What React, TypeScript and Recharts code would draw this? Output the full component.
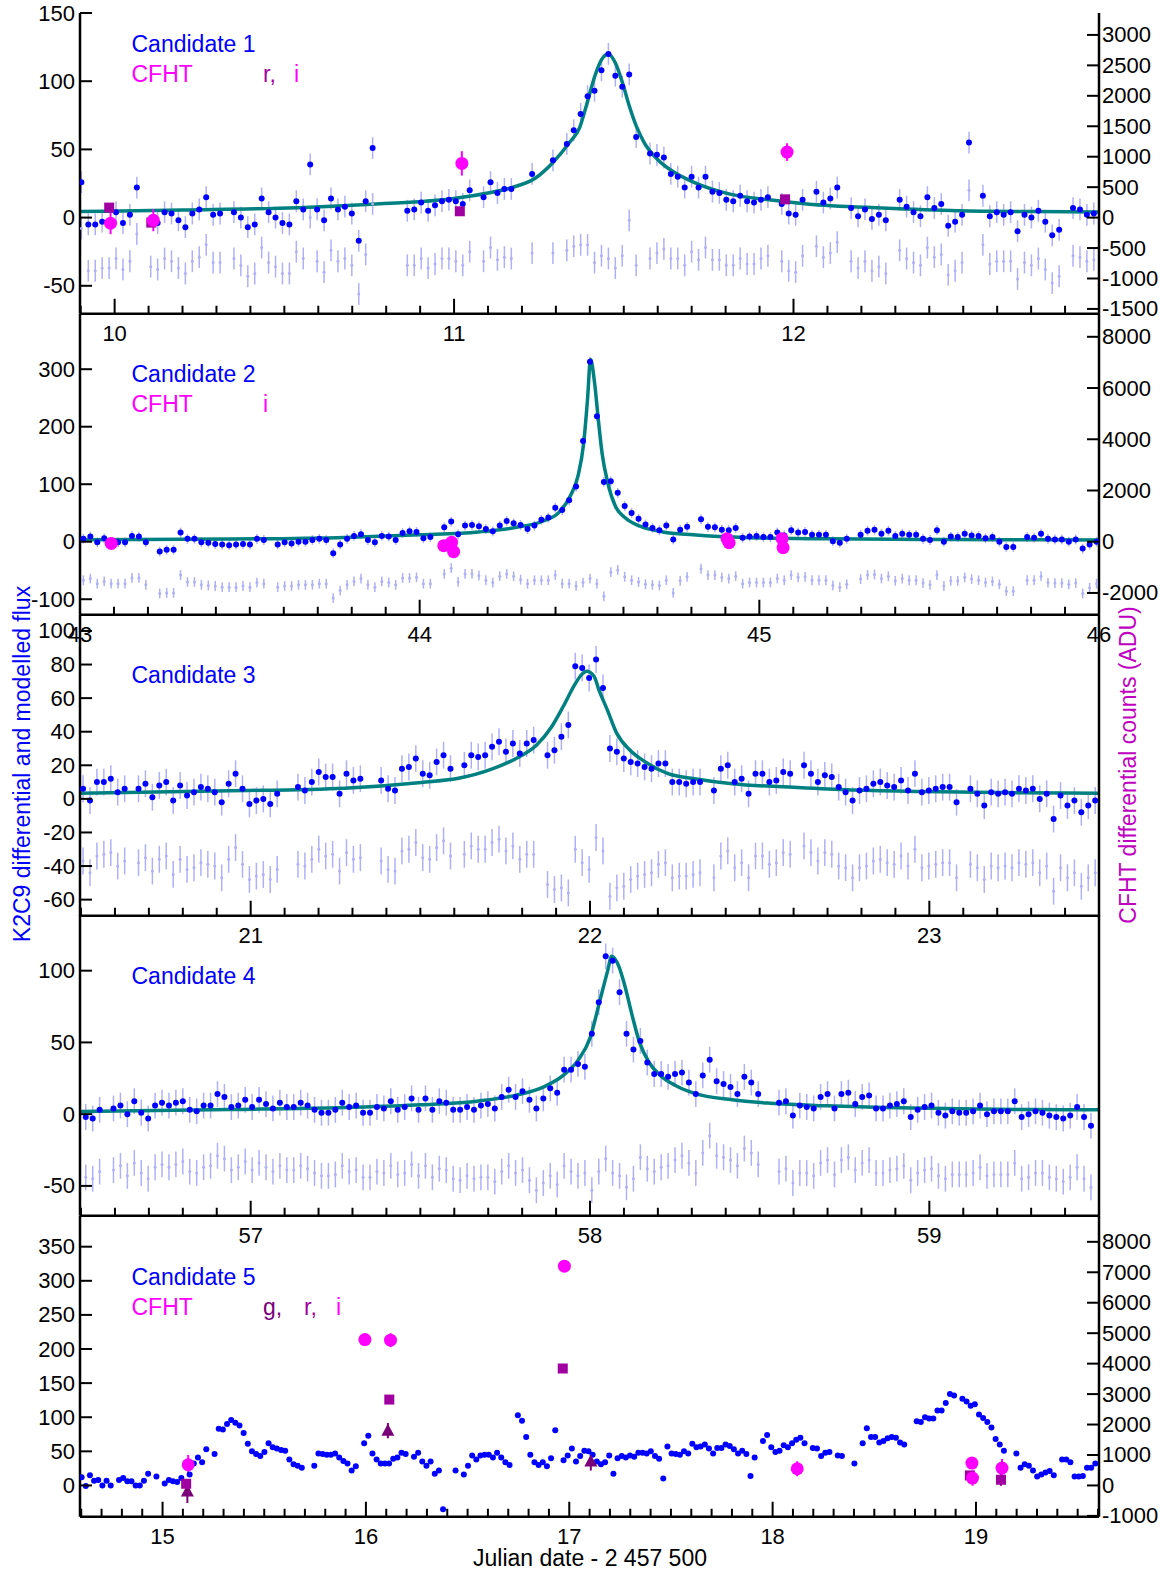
import React from 'react';
import { ComposedChart, Scatter, Line, XAxis, YAxis, ErrorBar } from 'recharts';

const FONT = "'Liberation Sans', Arial, Helvetica, sans-serif";
const BLUE = '#0000ff';
const LAV = '#b0b0f6';
const TEAL = '#008080';
const MAG = '#ff00ff';
const RPUR = '#a000a0';
const GPUR = '#7a007a';
const CADENCE = 0.02043;

// ---------------- Candidate 1 ----------------
const p1Start = 9.902;
const p1Flux = [26,-5,-5,-3,null,4,-4,2,22,null,
 null,-4,4,3,-2,-7,3,6,15,2,
 3,null,4,0,-7,-5,14,4,0,-4,
 -5,12,6,39,6,-2,14,6,8,3,
 -17,12,51,null,null,null,null,5,6,11,
 5,9,12,13,12,10,20,null,15,26,
 18,21,21,null,null,32,null,null,42,null,
 54,64,76,89,93,108,120,104,96,105,
 59,null,47,46,44,32,30,22,30,22,
 30,19,18,13,12,16,12,11,13,15,
 null,10,3,2,13,null,19,11,14,22,
 null,7,1,6,-1,2,-2,null,13,8,
 4,1,15,7,10,-6,-3,2,55,null,
 16,1,4,2,4,-10,2,0,5,-3,
 -13,-9,null,7,6,2,3];
const p1Resid = [-8,-39,-39,-37,-37,-30,-38,-32,-12,null,
 -36,-38,-30,-32,-37,-41,-32,-29,-20,-33,
 -33,null,-30,-35,-43,-41,-22,-33,-36,-41,
 -41,-25,-30,0,-32,-40,-24,-32,-30,-35,
 -56,-27,10,null,null,null,null,-35,-35,-30,
 -37,-34,-30,-30,-32,-35,-25,null,-32,-22,
 -31,-29,-30,null,null,-26,null,null,-26,null,
 -24,-21,-20,-20,-33,-28,-30,-37,-28,-2,
 -35,null,-30,-26,-23,-30,-30,-35,-25,-31,
 -22,-31,-31,-35,-35,-30,-34,-34,-30,-28,
 null,-32,-39,-40,-28,null,-21,-29,-26,-18,
 null,-32,-37,-32,-39,-36,-41,null,-24,-30,
 -33,-35,-22,-29,-27,-42,-39,-33,20,null,
 -20,-34,-32,-32,-32,-45,-33,-35,-30,-38,
 -48,-43,null,-28,-29,-32,-31];
const p1Err = 8;
const p1ModelT = [9.89,10.2,10.54,10.77,11.0,11.1,11.17,11.24,11.29,11.34,11.37,11.392,11.415,11.435,11.455,11.476,11.496,11.516,11.537,11.56,11.598,11.65,11.705,11.816,11.928,12.04,12.262,12.485,12.708,12.9];
const p1ModelF = [4.4,5.6,7.3,10,14,18,22,29,40,55,66,84,104,116,120,113,99,82,67,55,43,33,26,17,13,10,7,5,4.4,4.1];
const p1IT = [9.988,10.114,11.023,11.981];
const p1IC = [-93,-44,890,1076];
const p1IE = [180,180,200,145];
const p1RT = [9.984,10.108,11.017,11.975];
const p1RC = [164,-82,104,300];
const p1RE = [70,70,60,60];
const p1XMajor = [10,11,12];
const p1YTicks = [150,100,50,0,-50];
const p1RTicks = [3000,2500,2000,1500,1000,500,0,-500,-1000,-1500];

// ---------------- Candidate 2 ----------------
const p2Start = 43.01;
const p2Flux = [5,9,-1,6,-1,-1,-1,10,9,-1,
 null,-17,-14,-14,16,5,5,-1,-2,-4,
 -5,-6,-5,-4,-5,5,3,null,-5,-1,
 -3,0,0,3,5,3,-20,-5,5,10,
 13,3,-1,10,9,3,15,18,17,6,
 8,null,25,35,13,28,29,27,22,18,
 28,36,32,29,22,28,38,42,59,55,
 72,96,175,313,218,104,105,85,62,50,
 40,30,24,20,28,4,21,26,null,39,
 26,25,21,20,24,7,9,10,8,8,
 16,11,20,16,17,12,12,12,1,-2,
 5,null,12,19,21,14,19,10,14,12,
 12,5,3,20,0,9,8,14,11,10,
 6,8,0,-9,-9,null,8,7,14,5,
 4,4,0,4,-12,-5,0];
const p2Resid = [-67,-64,-73,-69,-73,-73,-73,-63,-63,-75,
 null,-90,-89,-89,-58,-70,-70,-75,-76,-77,
 -79,-79,-79,-77,-79,-71,-73,null,-79,-77,
 -77,-75,-75,-75,-73,-73,-98,-85,-75,-69,
 -64,-75,-79,-69,-71,-75,-63,-63,-62,-73,
 -73,null,-56,-46,-70,-56,-56,-59,-67,-71,
 -60,-56,-60,-66,-73,-67,-67,-67,-58,-73,
 -73,-77,-71,-64,-73,-95,-53,-49,-61,-67,
 -70,-74,-75,-76,-67,-89,-68,-61,null,-47,
 -58,-58,-62,-64,-60,-73,-71,-71,-71,-71,
 -64,-67,-58,-62,-61,-67,-67,-67,-76,-79,
 -74,null,-65,-58,-57,-64,-60,-68,-64,-67,
 -67,-72,-75,-58,-77,-68,-68,-62,-65,-67,
 -71,-69,-74,-86,-86,null,-67,-67,-60,-71,
 -72,-72,-74,-72,-90,-80,-73];
const p2Err = 8.5;
const p2ModelT = [43.0,43.44,43.78,44.0,44.173,44.285,44.364,44.41,44.443,44.466,44.483,44.494,44.503,44.515,44.526,44.537,44.554,44.576,44.604,44.649,44.716,44.805,44.972,45.195,45.474,45.697,46.0];
const p2ModelF = [3.5,4.6,7.5,12,17,25,36,51,79,114,172,246,317,276,212,154,102,62,42,27,17,12,7,5,4,3.5,3];
const p2IT = [43.092,44.071,44.094,44.1,44.905,44.911,45.067,45.07];
const p2IC = [-65,-155,-22,-390,117,-39,117,-234];
const p2IE = [150,150,150,150,150,150,150,150];
const p2XMajor = [43,44,45,46];
const p2YTicks = [300,200,100,0,-100];
const p2RTicks = [8000,6000,4000,2000,0,-2000];

// ---------------- Candidate 3 ----------------
const p3Start = 20.506;
const p3Flux = [6,-1,10,10,12,4,6,null,6,9,
 1,8,10,-1,8,2,4,7,6,4,
 -2,9,15,6,-3,-1,0,-3,3,null,
 null,7,5,10,16,13,13,3,15,11,
 12,null,null,11,6,5,18,19,24,15,
 14,22,26,18,null,20,26,25,26,31,
 34,28,33,27,33,35,null,26,29,37,
 44,79,78,72,83,66,30,28,24,22,
 21,19,18,21,21,10,10,9,10,10,
 null,5,18,20,10,12,3,15,15,10,
 11,16,15,null,20,15,10,14,13,7,
 4,-1,5,6,9,10,8,7,11,5,
 15,4,5,6,7,7,-2,null,6,3,
 -4,4,3,4,3,6,5,6,0,3,
 -12,2,-4,-1,-8,-4,-1];
const p3Resid = [-37,-44,-34,-33,-32,-40,-37,null,-38,-35,
 -43,-36,-34,-45,-36,-42,-41,-38,-39,-40,
 -47,-36,-29,-39,-48,-46,-45,-48,-42,null,
 null,-39,-40,-36,-30,-34,-33,-43,-32,-36,
 -35,null,null,-37,-42,-43,-31,-30,-26,-35,
 -36,-29,-25,-34,null,-33,-28,-30,-30,-26,
 -24,-31,-28,-36,-33,-33,null,-51,-54,-53,
 -56,-30,-38,-42,-23,-31,-58,-53,-52,-48,
 -46,-45,-44,-39,-38,-47,-46,-46,-45,-44,
 null,-47,-34,-31,-41,-38,-47,-34,-34,-39,
 -38,-32,-33,null,-28,-32,-37,-32,-33,-40,
 -41,-47,-41,-40,-37,-36,-38,-39,-34,-40,
 -30,-41,-40,-39,-38,-38,-47,null,-39,-41,
 -48,-40,-41,-40,-41,-38,-39,-38,-44,-40,
 -55,-41,-47,-44,-52,-47,-44];
const p3Err = 8;
const p3ModelT = [20.497,20.938,21.277,21.503,21.616,21.706,21.785,21.842,21.887,21.921,21.955,21.975,21.99,22.012,22.026,22.051,22.079,22.118,22.163,22.23,22.308,22.419,22.586,22.754,22.977,23.2,23.5];
const p3ModelF = [3.4,4.8,6.4,9.8,12.4,17.4,24.4,32,43,55,68,74,76,73,65,53,39,29,22,15,12,9,7,5.4,4.4,3.8,3.4];
const p3XMajor = [21,22,23];
const p3YTicks = [100,80,60,40,20,0,-20,-40,-60];

// ---------------- Candidate 4 ----------------
const p4Start = 56.514;
const p4Flux = [-2,-3,3,null,4,6,0,9,1,-3,
 6,8,6,8,9,3,2,6,6,14,
 12,5,6,10,5,10,7,4,8,5,
 5,8,6,3,1,1,3,8,5,6,
 1,1,5,4,9,3,5,11,3,11,
 3,9,8,3,3,5,3,6,7,4,
 12,17,12,16,10,4,11,18,15,31,
 31,35,33,56,78,110,107,85,56,45,
 51,36,28,28,26,28,29,22,14,27,
 38,23,21,19,14,26,22,14,null,null,
 8,9,-1,6,5,4,12,14,4,14,
 15,7,12,13,4,4,6,7,9,-2,
 3,5,6,1,-1,2,1,1,2,6,
 0,2,2,2,9,-2,0,2,1,-1,
 -2,-3,-1,5,-2,-8];
const p4Resid = [-44,-45,-40,null,-39,-36,-43,-34,-41,-45,
 -37,-35,-37,-35,-33,-40,-41,-37,-36,-29,
 -31,-39,-37,-33,-39,-34,-37,-40,-36,-39,
 -39,-36,-38,-41,-43,-43,-42,-36,-40,-39,
 -44,-44,-40,-41,-36,-42,-41,-35,-43,-36,
 -44,-38,-39,-45,-46,-43,-45,-44,-44,-47,
 -40,-36,-41,-39,-46,-53,-48,-43,-49,-36,
 -40,-43,-41,-53,-40,-31,-41,-43,-51,-45,
 -30,-38,-40,-37,-36,-32,-29,-34,-41,-27,
 -15,-29,-30,-32,-36,-24,-27,-35,null,null,
 -40,-38,-48,-41,-41,-43,-34,-32,-42,-32,
 -30,-39,-34,-32,-41,-41,-39,-38,-36,-46,
 -41,-39,-38,-43,-45,-42,-42,-42,-41,-37,
 -43,-42,-42,-42,-34,-45,-44,-41,-41,-44,
 -45,-47,-44,-37,-45,-51];
const p4Err = 9;
const p4ModelT = [56.497,56.938,57.277,57.503,57.672,57.785,57.864,57.921,57.966,58.0,58.03,58.051,58.064,58.085,58.102,58.124,58.146,58.174,58.207,58.252,58.308,58.419,58.531,58.698,58.865,59.088,59.311,59.5];
const p4ModelF = [1.8,3.2,4.6,6.5,9.2,13.4,19,27,38,53,80,99,110,103,90,69,50,36,27,20,14.5,10,7.6,5.8,4.6,3.7,3.2,3];
const p4XMajor = [57,58,59];
const p4YTicks = [100,50,0,-50];

// ---------------- Candidate 5 ----------------
const p5Start = 14.602;
const p5Flux = [12,-1,15,7,8,0,7,0,null,8,
 11,6,6,0,0,7,17,null,13,null,
 3,8,6,5,11,null,16,32,41,34,
 53,null,46,83,82,90,96,92,88,77,
 61,50,46,43,49,62,56,54,52,51,
 38,31,29,26,null,null,29,47,46,45,
 45,47,41,36,32,22,28,null,62,73,
 47,38,32,32,32,39,41,48,46,null,
 42,48,35,29,35,17,22,-35,null,null,
 22,null,16,29,44,38,44,45,45,41,
 48,41,34,30,null,103,95,71,45,34,
 30,34,28,40,81,null,37,44,54,35,
 43,51,50,45,35,31,34,44,17,40,
 43,41,44,42,48,48,47,50,43,39,
 10,57,47,46,45,50,47,61,56,57,
 60,54,47,55,55,60,58,53,47,51,
 46,14,41,null,65,74,56,49,51,59,
 56,62,67,70,62,null,55,54,43,48,
 49,null,44,43,null,null,32,null,62,84,
 71,71,63,65,69,71,70,63,60,null,
 null,94,93,100,98,98,110,110,121,134,
 132,null,127,123,117,119,104,99,93,85,
 68,60,51,null,null,47,26,31,29,22,
 13,16,19,21,15,null,38,38,34,13,
 13,14,26,26,32];
const p5IT = [15.126,15.995,16.121,16.976,18.121,18.98,18.983,19.128];
const p5IC = [680,4790,4770,7200,548,735,241,570];
const p5IE = [320,190,230,190,250,150,250,300];
const p5RT = [15.116,16.115,16.968,18.97,19.123];
const p5RC = [55,2820,3840,329,186];
const p5RE = [100,60,60,60,200];
const p5GT = [15.122,16.108,17.106];
const p5GC = [-197,1800,790];
const p5GE = [380,250,300];
const p5XMajor = [15,16,17,18,19];
const p5YTicks = [350,300,250,200,150,100,50,0];
const p5RTicks = [8000,7000,6000,5000,4000,3000,2000,1000,0,-1000];

// ---------------- helpers ----------------
type Pt = { x: number; y: number; e: number };

function cadenceSeries(start: number, vals: (number | null)[], err: number): Pt[] {
  const out: Pt[] = [];
  vals.forEach((v, i) => {
    if (v !== null) out.push({ x: start + i * CADENCE, y: v, e: err });
  });
  return out;
}
function zipSeries(xs: number[], ys: number[], es?: number[]): Pt[] {
  return xs.map((x, i) => ({ x, y: ys[i], e: es ? es[i] : 0 }));
}
function axisTicks(d: [number, number]): number[] {
  const out: number[] = [];
  for (let k = Math.ceil(d[0] * 10 - 1e-6); k <= Math.floor(d[1] * 10 + 1e-6); k++) out.push(k / 10);
  return out;
}

const AX = { stroke: '#000', strokeWidth: 2.5 };
const PH = 300.75;

function LeftTick(props: any) {
  const { x, y, payload } = props;
  return (
    <g>
      <line x1={x} x2={x + 12} y1={y} y2={y} stroke="#000" strokeWidth={2} />
      <text x={x - 5} y={y} textAnchor="end" dominantBaseline="central" fontSize={22} fontFamily={FONT} fill="#000">
        {payload.value}
      </text>
    </g>
  );
}
function RightTick(props: any) {
  const { x, y, payload } = props;
  return (
    <g>
      <line x1={x - 12} x2={x} y1={y} y2={y} stroke="#000" strokeWidth={2} />
      <text x={x + 3} y={y} textAnchor="start" dominantBaseline="central" fontSize={22} fontFamily={FONT} fill="#000">
        {payload.value}
      </text>
    </g>
  );
}
function BottomTick(props: any) {
  const { x, y, payload } = props;
  const v = payload.value as number;
  const major = Math.abs(v - Math.round(v)) < 1e-6;
  return (
    <g>
      <line x1={x} x2={x} y1={y} y2={y - (major ? 15 : 8)} stroke="#000" strokeWidth={2} />
      {major && (
        <text x={x} y={y + 20} textAnchor="middle" dominantBaseline="central" fontSize={22} fontFamily={FONT} fill="#000">
          {Math.round(v)}
        </text>
      )}
    </g>
  );
}

const dotBlue = (p: any) => <circle cx={p.cx} cy={p.cy} r={3} fill={BLUE} />;
const dotLav = (p: any) => <circle cx={p.cx} cy={p.cy} r={1.5} fill={LAV} />;
const noDot = () => <g />;
const dotI = (p: any) => <circle cx={p.cx} cy={p.cy} r={6.5} fill={MAG} />;
const dotR = (p: any) => <rect x={p.cx - 5} y={p.cy - 5} width={10} height={10} fill={RPUR} />;
const dotG = (p: any) => (
  <polygon points={`${p.cx},${p.cy - 7} ${p.cx - 6.5},${p.cy + 5} ${p.cx + 6.5},${p.cy + 5}`} fill={GPUR} />
);

type PanelProps = {
  top: number;
  xDomain: [number, number];
  yDomain: [number, number];
  yTicks: number[];
  rDomain?: [number, number];
  rTicks?: number[];
  flux: Pt[];
  resid?: Pt[];
  showErr: boolean;
  model?: Pt[];
  iPts?: Pt[];
  rPts?: Pt[];
  gPts?: Pt[];
};

function Panel(p: PanelProps) {
  const H = PH + 50;
  return (
    <div style={{ position: 'absolute', left: 0, top: p.top - 10, width: 1174, height: H }}>
      <ComposedChart width={1174} height={H} margin={{ top: 10, right: 15, bottom: 10, left: 20 }}>
        <XAxis
          xAxisId="b"
          dataKey="x"
          type="number"
          domain={p.xDomain}
          allowDataOverflow
          ticks={axisTicks(p.xDomain)}
          interval={0}
          tickSize={0}
          tickMargin={0}
          tickLine={false}
          axisLine={AX}
          tick={(t: any) => <BottomTick {...t} />}
          height={30}
        />
        <XAxis
          xAxisId="t"
          orientation="top"
          dataKey="x"
          type="number"
          domain={p.xDomain}
          allowDataOverflow
          height={0}
          tick={false}
          tickLine={false}
          axisLine={AX}
        />
        <YAxis
          yAxisId="l"
          dataKey="y"
          type="number"
          domain={p.yDomain}
          allowDataOverflow
          ticks={p.yTicks}
          interval={0}
          tickSize={0}
          tickMargin={0}
          tickLine={false}
          axisLine={AX}
          tick={(t: any) => <LeftTick {...t} />}
          width={60}
        />
        <YAxis
          yAxisId="r"
          orientation="right"
          dataKey="y"
          type="number"
          domain={p.rDomain ?? [0, 1]}
          allowDataOverflow
          ticks={p.rTicks ?? []}
          interval={0}
          tickSize={0}
          tickMargin={0}
          tickLine={false}
          axisLine={AX}
          tick={p.rTicks ? (t: any) => <RightTick {...t} /> : false}
          width={60}
        />
        {p.resid && (
          <Scatter xAxisId="b" yAxisId="l" data={p.resid} dataKey="y" shape={dotLav} isAnimationActive={false}>
            <ErrorBar dataKey="e" direction="y" width={0} stroke={LAV} strokeWidth={1.5} />
          </Scatter>
        )}
        {p.showErr && (
          <Scatter xAxisId="b" yAxisId="l" data={p.flux} dataKey="y" shape={noDot} isAnimationActive={false}>
            <ErrorBar dataKey="e" direction="y" width={0} stroke={LAV} strokeWidth={1.5} />
          </Scatter>
        )}
        <Scatter xAxisId="b" yAxisId="l" data={p.flux} dataKey="y" shape={dotBlue} isAnimationActive={false} />
        {p.model && (
          <Line
            xAxisId="b"
            yAxisId="l"
            data={p.model}
            dataKey="y"
            type="monotone"
            dot={false}
            activeDot={false}
            stroke={TEAL}
            strokeWidth={3.5}
            isAnimationActive={false}
          />
        )}
        {p.gPts && (
          <Scatter xAxisId="b" yAxisId="r" data={p.gPts} dataKey="y" shape={dotG} isAnimationActive={false}>
            <ErrorBar dataKey="e" direction="y" width={0} stroke={GPUR} strokeWidth={2} />
          </Scatter>
        )}
        {p.rPts && (
          <Scatter xAxisId="b" yAxisId="r" data={p.rPts} dataKey="y" shape={dotR} isAnimationActive={false}>
            <ErrorBar dataKey="e" direction="y" width={0} stroke={RPUR} strokeWidth={2} />
          </Scatter>
        )}
        {p.iPts && (
          <Scatter xAxisId="b" yAxisId="r" data={p.iPts} dataKey="y" shape={dotI} isAnimationActive={false}>
            <ErrorBar dataKey="e" direction="y" width={0} stroke={MAG} strokeWidth={2} />
          </Scatter>
        )}
      </ComposedChart>
    </div>
  );
}

const TOPS = [13, 13 + PH, 13 + 2 * PH, 13 + 3 * PH, 13 + 4 * PH];

function Txt(props: { x: number; y: number; c: string; s?: string; children: React.ReactNode }) {
  return (
    <text x={props.x} y={props.y} fill={props.c} fontSize={23} fontFamily={FONT} dominantBaseline="central" textAnchor={props.s ?? 'start'}>
      {props.children}
    </text>
  );
}

export default function App() {
  return (
    <div style={{ position: 'absolute', left: 0, top: 0, width: 1174, height: 1574, background: '#fff' }}>
      <Panel
        top={TOPS[0]}
        xDomain={[9.898, 12.9]}
        yDomain={[-70.5, 150]}
        yTicks={p1YTicks}
        rDomain={[-1579, 3360]}
        rTicks={p1RTicks}
        flux={cadenceSeries(p1Start, p1Flux, p1Err)}
        resid={cadenceSeries(p1Start, p1Resid, p1Err)}
        showErr
        model={zipSeries(p1ModelT, p1ModelF)}
        iPts={zipSeries(p1IT, p1IC, p1IE)}
        rPts={zipSeries(p1RT, p1RC, p1RE)}
      />
      <Panel
        top={TOPS[1]}
        xDomain={[43, 46]}
        yDomain={[-127, 396]}
        yTicks={p2YTicks}
        rDomain={[-2851, 8890]}
        rTicks={p2RTicks}
        flux={cadenceSeries(p2Start, p2Flux, p2Err)}
        resid={cadenceSeries(p2Start, p2Resid, p2Err)}
        showErr
        model={zipSeries(p2ModelT, p2ModelF)}
        iPts={zipSeries(p2IT, p2IC, p2IE)}
      />
      <Panel
        top={TOPS[2]}
        xDomain={[20.497, 23.5]}
        yDomain={[-69.6, 109.5]}
        yTicks={p3YTicks}
        flux={cadenceSeries(p3Start, p3Flux, p3Err)}
        resid={cadenceSeries(p3Start, p3Resid, p3Err)}
        showErr
        model={zipSeries(p3ModelT, p3ModelF)}
      />
      <Panel
        top={TOPS[3]}
        xDomain={[56.497, 59.5]}
        yDomain={[-70.8, 138.8]}
        yTicks={p4YTicks}
        flux={cadenceSeries(p4Start, p4Flux, p4Err)}
        resid={cadenceSeries(p4Start, p4Resid, p4Err)}
        showErr
        model={zipSeries(p4ModelT, p4ModelF)}
      />
      <Panel
        top={TOPS[4]}
        xDomain={[14.594, 19.605]}
        yDomain={[-45.9, 395]}
        yTicks={p5YTicks}
        rDomain={[-1028, 8848]}
        rTicks={p5RTicks}
        flux={cadenceSeries(p5Start, p5Flux, 0)}
        showErr={false}
        iPts={zipSeries(p5IT, p5IC, p5IE)}
        rPts={zipSeries(p5RT, p5RC, p5RE)}
        gPts={zipSeries(p5GT, p5GC, p5GE)}
      />
      <svg width={1174} height={1574} style={{ position: 'absolute', left: 0, top: 0, pointerEvents: 'none' }}>
        <Txt x={131.5} y={43.5} c={BLUE}>Candidate 1</Txt>
        <Txt x={131.5} y={73.5} c={MAG}>CFHT</Txt>
        <Txt x={263} y={73.5} c={RPUR}>r,</Txt>
        <Txt x={294} y={73.5} c={MAG}>i</Txt>

        <Txt x={131.5} y={373.5} c={BLUE}>Candidate 2</Txt>
        <Txt x={131.5} y={403.5} c={MAG}>CFHT</Txt>
        <Txt x={263} y={403.5} c={MAG}>i</Txt>

        <Txt x={131.5} y={674.5} c={BLUE}>Candidate 3</Txt>
        <Txt x={131.5} y={975.5} c={BLUE}>Candidate 4</Txt>

        <Txt x={131.5} y={1276.5} c={BLUE}>Candidate 5</Txt>
        <Txt x={131.5} y={1306.5} c={MAG}>CFHT</Txt>
        <Txt x={263} y={1306.5} c={GPUR}>g,</Txt>
        <Txt x={304} y={1306.5} c={RPUR}>r,</Txt>
        <Txt x={336} y={1306.5} c={MAG}>i</Txt>

        <text transform="translate(22,764) rotate(-90)" textAnchor="middle" dominantBaseline="central" fill={BLUE} fontSize={23} fontFamily={FONT}>
          K2C9 differential and modelled flux
        </text>
        <text transform="translate(1128,765) rotate(-90)" textAnchor="middle" dominantBaseline="central" fill="#c000c0" fontSize={23} fontFamily={FONT}>
          CFHT differential counts (ADU)
        </text>
        <text x={590} y={1558} textAnchor="middle" dominantBaseline="central" fill="#000" fontSize={23} fontFamily={FONT}>
          Julian date - 2 457 500
        </text>
      </svg>
    </div>
  );
}
